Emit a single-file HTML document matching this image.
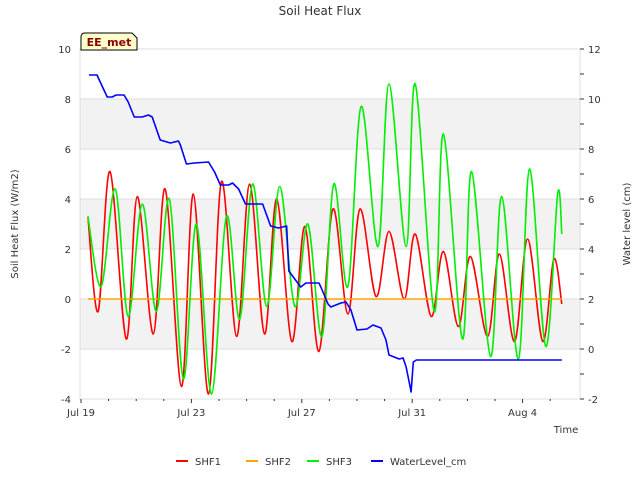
<!DOCTYPE html>
<html><head><meta charset="utf-8"><style>
body{margin:0;background:#fff;font-family:"Liberation Sans","DejaVu Sans",sans-serif}
svg text{font-family:"DejaVu Sans","Liberation Sans",sans-serif;fill:#333}
</style></head><body>
<svg id="c" width="640" height="480" xmlns="http://www.w3.org/2000/svg"></svg>
<script>
const xTickLabels=["Jul 19","Jul 23","Jul 27","Jul 31","Aug 4"];
const xTickDays=[0,4,8,12,16];
const yLeftTicks=[-4,-2,0,2,4,6,8,10];
const yRightTicks=[-2,0,2,4,6,8,10,12];
const shf1Days=[0.25,0.62,1.05,1.64,2.04,2.62,3.05,3.64,4.07,4.62,5.09,5.64,6.11,6.65,7.09,7.64,8.11,8.62,9.13,9.67,10.11,10.69,11.16,11.71,12.11,12.69,13.13,13.67,14.11,14.73,15.16,15.71,16.18,16.73,17.13,17.42];
const shf1Vals=[3.3,-0.5,5.1,-1.6,4.1,-1.4,4.4,-3.5,4.2,-3.8,4.7,-1.5,4.6,-1.4,4.0,-1.7,2.9,-2.1,3.6,-0.6,3.6,0.1,2.7,0.0,2.6,-0.7,1.9,-1.1,1.7,-1.5,1.8,-1.7,2.4,-1.7,1.6,-0.2];
const shf2Days=[0.25,17.42];
const shf2Vals=[0,0];
const shf3Days=[0.25,0.73,1.24,1.71,2.22,2.73,3.2,3.71,4.18,4.73,5.27,5.75,6.22,6.73,7.2,7.75,8.22,8.73,9.16,9.67,10.15,10.76,11.16,11.78,12.11,12.8,13.13,13.82,14.15,14.84,15.24,15.85,16.25,16.84,17.27,17.42];
const shf3Vals=[3.3,0.5,4.4,-0.7,3.8,-0.5,4.0,-3.2,3.0,-3.8,3.3,-0.8,4.6,-0.3,4.5,-0.3,3.0,-1.5,4.6,0.5,7.7,2.1,8.6,2.1,8.6,-0.5,6.6,-1.6,5.1,-2.3,4.1,-2.4,5.2,-1.9,4.2,2.6];
const wlDays=[0.29,0.58,0.73,0.95,1.13,1.27,1.56,1.71,1.93,2.22,2.44,2.58,2.87,3.24,3.53,3.6,3.82,4.11,4.62,4.84,5.05,5.35,5.49,5.71,5.96,6.58,6.87,7.16,7.45,7.53,7.96,8.15,8.62,8.69,8.95,9.05,9.42,9.6,9.78,10.0,10.36,10.58,10.87,11.05,11.16,11.53,11.67,11.78,11.89,11.96,12.04,12.15,17.42];
const wlVals=[10.96,10.96,10.6,10.08,10.08,10.16,10.16,9.88,9.28,9.28,9.36,9.28,8.36,8.24,8.32,8.16,7.4,7.44,7.48,7.08,6.56,6.56,6.64,6.4,5.8,5.8,4.92,4.84,4.92,3.12,2.48,2.64,2.64,2.48,1.8,1.68,1.84,1.88,1.56,0.76,0.8,0.96,0.84,0.36,-0.24,-0.4,-0.36,-0.72,-1.32,-1.72,-0.52,-0.44,-0.44];

const NS="http://www.w3.org/2000/svg",svg=document.getElementById('c');
const X0=80,X1=580,Y0=49,Y1=399;
const xs=d=>81+d*27.6;
const yL=v=>Y1-(v+4)*25;
const yR=v=>Y1-(v+2)*25;
function mk(t,a,p){const e=document.createElementNS(NS,t);for(const k in a)e.setAttribute(k,a[k]);(p||svg).appendChild(e);return e;}
let e;
e=mk('rect',{x:X0,y:Y0,width:X1-X0,height:Y1-Y0,fill:'#fff'});


[[6,8],[2,4],[-2,0]].forEach(b=>{e=mk('rect',{x:X0,y:yL(b[1]),width:X1-X0,height:50,fill:'#f2f2f2'});

});
yLeftTicks.forEach(v=>{e=mk('line',{x1:X0,x2:X1,y1:yL(v),y2:yL(v),stroke:'#dcdcdc','stroke-width':1});


e=mk('text',{x:71,y:yL(v)+4,'text-anchor':'end','font-size':10});e.textContent=v;

});
mk('line',{x1:X0,x2:X0,y1:Y0,y2:Y1,stroke:'#dcdcdc'});
mk('line',{x1:X1,x2:X1,y1:Y0,y2:Y1,stroke:'#dcdcdc'});
yRightTicks.forEach(v=>{mk('line',{x1:X1,x2:X1+4,y1:yR(v),y2:yR(v),stroke:'#333'});
if(v<12)mk('line',{x1:X1,x2:X1+4,y1:yR(v+1),y2:yR(v+1),stroke:'#333'});
e=mk('text',{x:588,y:yR(v)+4,'font-size':10});e.textContent=v;

});
xTickDays.forEach((d,i)=>{mk('line',{x1:xs(d),x2:xs(d),y1:Y1,y2:Y1+4,stroke:'#333'});
e=mk('text',{x:xs(d),y:416,'text-anchor':'middle','font-size':10});e.textContent=xTickLabels[i];

});
for(let d=1;d<18;d++){if(d%4)mk('line',{x1:xs(d),x2:xs(d),y1:Y1,y2:Y1+2,stroke:'#333'});}
function spline(px){let s=`M${px[0][0]},${px[0][1]}`;for(let i=0;i<px.length-1;i++){const p0=px[i-1]||px[i],p1=px[i],p2=px[i+1],p3=px[i+2]||p2;
s+=` C${p1[0]+(p2[0]-p0[0])/6},${p1[1]+(p2[1]-p0[1])/6} ${p2[0]-(p3[0]-p1[0])/6},${p2[1]-(p3[1]-p1[1])/6} ${p2[0]},${p2[1]}`;}return s;}
function series(days,vals,ys,col,name,smooth){const px=days.map((d,i)=>[xs(d),ys(vals[i])]);
const dstr=smooth?spline(px):'M'+px.map(p=>p.join(',')).join(' L');
e=mk('path',{d:dstr,fill:'none',stroke:col,'stroke-width':1.6,'stroke-linejoin':'round'});

}
series(shf1Days,shf1Vals,yL,'#ff0000','shf1-line',true);
series(shf2Days,shf2Vals,yL,'#ffa500','shf2-line',false);
series(shf3Days,shf3Vals,yL,'#00ee00','shf3-line',true);
series(wlDays,wlVals,yR,'#0000ff','water-level-line',false);
e=mk('text',{x:320,y:15,'text-anchor':'middle','font-size':12});e.textContent='Soil Heat Flux';


e=mk('text',{x:18,y:224,'text-anchor':'middle','font-size':10,transform:'rotate(-90 18 224)'});e.textContent='Soil Heat Flux (W/m2)';


e=mk('text',{x:630,y:224,'text-anchor':'middle','font-size':10,transform:'rotate(-90 630 224)'});e.textContent='Water level (cm)';


e=mk('text',{x:566,y:433,'text-anchor':'middle','font-size':10});e.textContent='Time';


const g=mk('g',{});


mk('path',{d:'M81,50 L81,37 Q81,33 85,33 L132,33 L137,38 L137,50 Z',fill:'#ffffcc',stroke:'#000'},g);
e=mk('text',{x:109,y:46,'text-anchor':'middle','font-size':11,'font-weight':'bold',style:'fill:#8b0000'},g);e.textContent='EE_met';
const leg=[['SHF1','#ff0000',176],['SHF2','#ffa500',246],['SHF3','#00ee00',307],['WaterLevel_cm','#0000ff',371]];
leg.forEach(l=>{const lg=mk('g',{});


mk('line',{x1:l[2],x2:l[2]+12,y1:461,y2:461,stroke:l[1],'stroke-width':2},lg);
const t=mk('text',{x:l[2]+19,y:465,'font-size':10},lg);t.textContent=l[0];});
</script>
</body></html>
